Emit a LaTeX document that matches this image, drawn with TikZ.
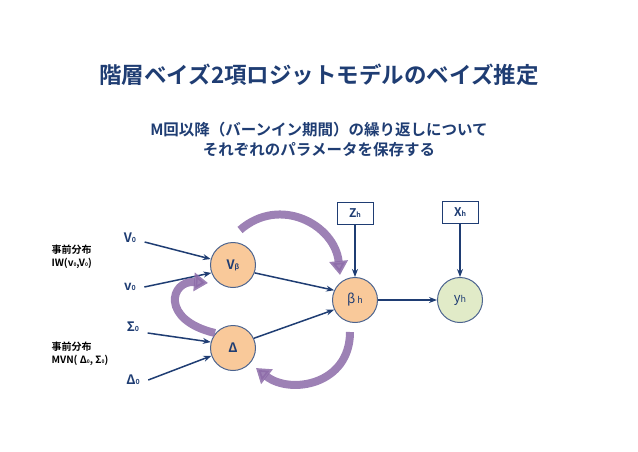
\documentclass[tikz,border=0pt]{standalone}
\usepackage{fontspec}
\setmainfont{Noto Sans CJK JP}[BoldFont={Noto Sans CJK JP Bold}]
\usetikzlibrary{arrows.meta}
\definecolor{navy}{HTML}{1F3D73}
\definecolor{arr}{HTML}{1F3D73}
\definecolor{peach}{HTML}{F9C99A}
\definecolor{lgreen}{HTML}{E1EBC8}
\definecolor{purp}{HTML}{8C6BA8}
\begin{document}
\begin{tikzpicture}[x=1pt,y=-1pt,
  circ/.style={circle,draw=navy!80,line width=1pt,minimum size=45pt,inner sep=0pt,text=navy,font=\fontsize{13}{15}\selectfont},
  box/.style={draw=navy,line width=1pt,minimum width=36pt,minimum height=22pt,inner sep=1pt,font=\bfseries\fontsize{12}{14}\selectfont,text=navy},
  lab/.style={font=\bfseries\fontsize{13}{15}\selectfont,text=navy},
  pri/.style={font=\bfseries\fontsize{10}{13}\selectfont,align=left,anchor=west},
  con/.style={-{Stealth[length=8pt]},arr,line width=1.5pt},
  big/.style={-{Triangle[length=14pt,width=18pt]},purp,line width=8pt,opacity=0.85}]
\useasboundingbox (0,0) rectangle (638,451);
\node[font=\bfseries\fontsize{22.5}{26}\selectfont,text=navy] (t) at (319,75) {階層ベイズ2項ロジットモデルのベイズ推定};
\node[font=\bfseries\fontsize{15.5}{20}\selectfont,text=navy,align=center] (s) at (319,140) {M回以降（バーンイン期間）の繰り返しについて\\それぞれのパラメータを保存する};
\node[circ,fill=peach] (vb) at (233,265) {\textbf{V}{\scriptsize\bfseries β}};
\node[circ,fill=peach] (d) at (233,348) {\textbf{Δ}};
\node[circ,fill=peach] (b) at (355,300) {\textit{β}\,{\small h}};
\node[circ,fill=lgreen] (y) at (460,300) {y{\small h}};
\node[box] (z) at (355,213) {Z{\scriptsize h}};
\node[box] (x) at (460,212) {X{\scriptsize h}};
\node[lab] (V0) at (130,238) {V{\scriptsize 0}};
\node[lab] (v0) at (130,287) {v{\scriptsize 0}};
\node[lab] (S0) at (133,327) {Σ{\scriptsize 0}};
\node[lab] (D0) at (133,380) {Δ{\scriptsize 0}};
\node[pri] (p1) at (48,257) {事前分布\\IW(v{\tiny 0},V{\tiny 0})};
\node[pri] (p2) at (48,354) {事前分布\\MVN( Δ{\tiny 0}, Σ{\tiny 0})};
\draw[con] (V0.east) ++(5,4) coordinate (a1) -- (vb.165);
\draw[con] (v0.east) ++(5,0) coordinate (a2) -- (vb.200);
\draw[con] (S0.east) ++(5,6) coordinate (a3) -- (d.165);
\draw[con] (D0.east) ++(5,0) coordinate (a4) -- (d.200);
\draw[con] (vb.-20) -- (b.155);
\draw[con] (d.25) -- (b.205);
\draw[con] (z) -- (b);
\draw[con] (x) -- (y);
\draw[con] (b) -- (y);
\draw[big] (240,230) .. controls (280,195) and (335,225) .. (340,275);
\draw[big] (215,333) .. controls (160,320) and (170,280) .. (208,283);
\draw[big] (350,332) .. controls (350,385) and (290,395) .. (256,368);
\end{tikzpicture}
\end{document}
